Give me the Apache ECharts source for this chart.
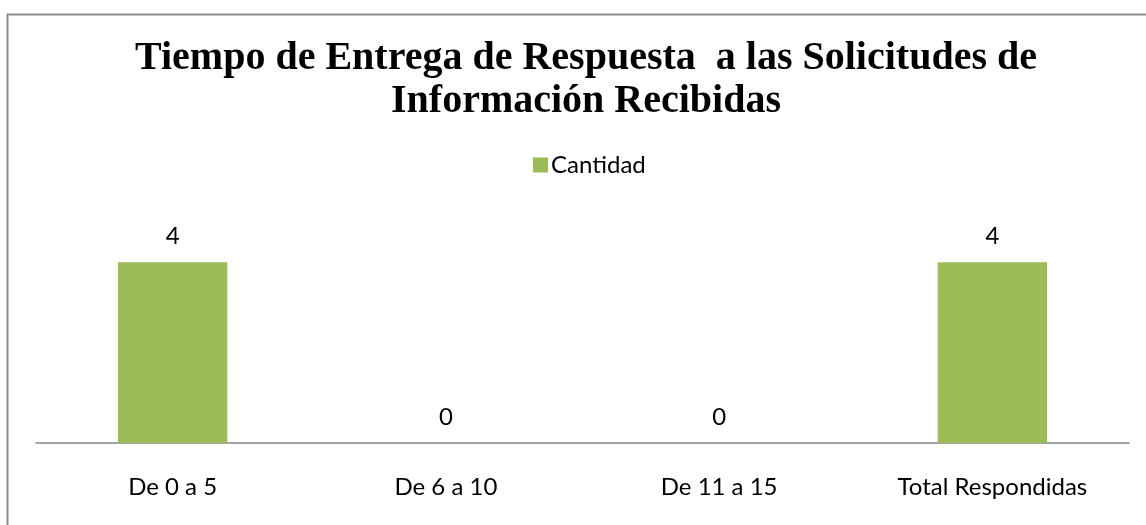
<!DOCTYPE html>
<html>
<head>
<meta charset="utf-8">
<script src="https://cdn.jsdelivr.net/npm/echarts@6/dist/echarts.min.js"></script>
<style>
  html, body { margin: 0; padding: 0; background: #ffffff; }
  #main { width: 1146px; height: 525px; }
</style>
</head>
<body>
<div id="main"></div>
<script>
const categories = ['De 0 a 5', 'De 6 a 10', 'De 11 a 15', 'Total Respondidas'];
const cantidad = [4, 0, 0, 4];
const seriesName = 'Cantidad';
const titleText = 'Tiempo de Entrega de Respuesta  a las Solicitudes de\nInformación Recibidas';

const chart = echarts.init(document.getElementById('main'), null, { renderer: 'canvas' });

const labelFont = 'Lato, Carlito, "Open Sans", sans-serif';

const option = {
  backgroundColor: '#ffffff',
  animation: false,
  color: ['#9BBB59'],
  // frame of the chart area (right and bottom edges fall outside the picture)
  graphic: [{
    type: 'rect',
    left: 5,
    top: 12,
    shape: { width: 1300, height: 700 },
    style: { fill: 'none', stroke: '#8c8c8c', lineWidth: 2 },
    silent: true
  }],
  title: {
    text: titleText,
    left: 581,
    textAlign: 'center',
    top: 32,
    textStyle: {
      fontFamily: '"Liberation Serif", "DejaVu Serif", serif',
      fontWeight: 'bold',
      fontSize: 40,
      lineHeight: 43,
      color: '#000000'
    }
  },
  legend: {
    data: [seriesName],
    left: 528,
    top: 148,
    icon: 'rect',
    itemWidth: 15,
    itemHeight: 15,
    itemGap: 6,
    selectedMode: false,
    textStyle: { fontFamily: labelFont, fontSize: 24, color: '#000000', padding: [0, 0, 0, -2] }
  },
  grid: {
    left: 36,
    right: 17,
    top: 217,
    bottom: 82,
    containLabel: false
  },
  xAxis: {
    type: 'category',
    data: categories,
    axisLine: { lineStyle: { color: '#868686', width: 1.5 } },
    axisTick: { show: false },
    axisLabel: {
      margin: 32,
      fontFamily: labelFont,
      fontSize: 24,
      color: '#000000'
    }
  },
  yAxis: {
    type: 'value',
    min: 0,
    max: 5,
    show: false,
    splitLine: { show: false }
  },
  series: [{
    name: seriesName,
    type: 'bar',
    data: cantidad,
    barWidth: '40%',
    label: {
      show: true,
      position: 'top',
      distance: 14,
      fontFamily: labelFont,
      fontSize: 24,
      color: '#000000'
    }
  }]
};

chart.setOption(option);
</script>
</body>
</html>
